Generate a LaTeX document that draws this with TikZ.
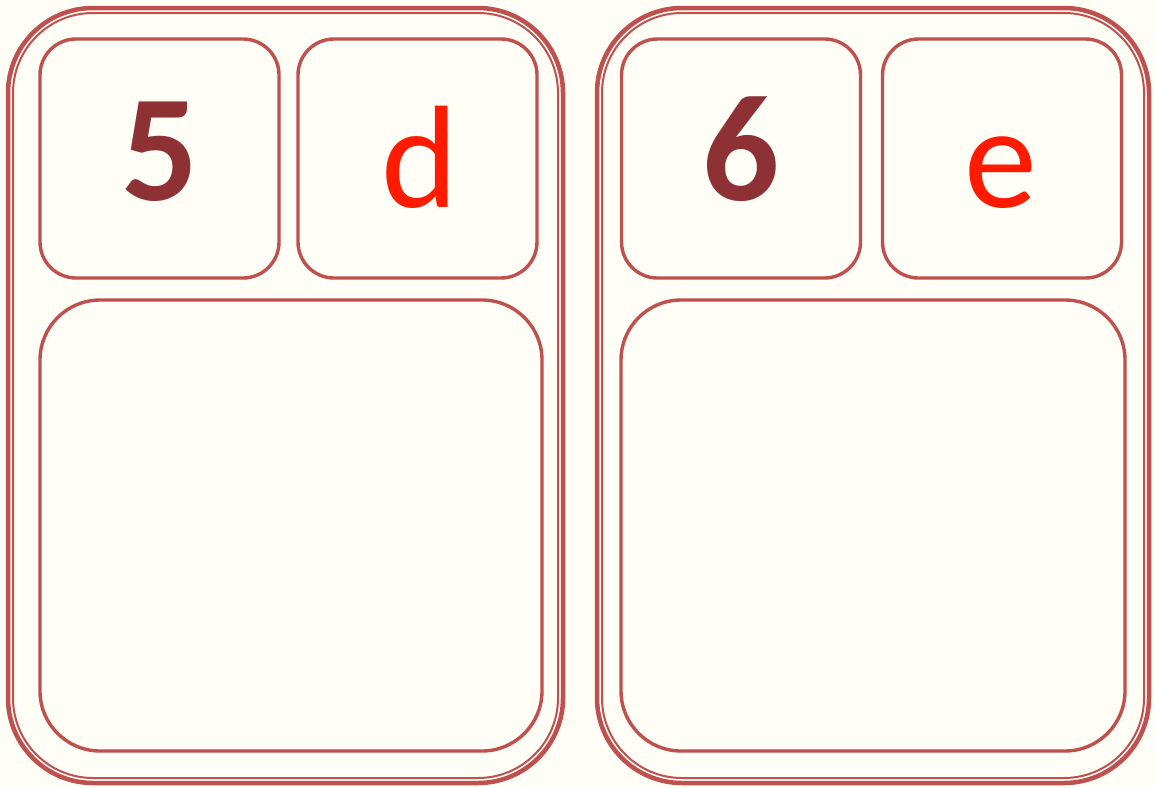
\documentclass[tikz,border=0pt]{standalone}
\usepackage{fontspec}
\setmainfont{Carlito}
\definecolor{bg}{HTML}{FEFEF7}
\definecolor{edge}{HTML}{C0504D}
\definecolor{numc}{HTML}{8E3134}
\definecolor{letc}{HTML}{FF1A00}
\tikzset{
  cardout/.style={draw=edge, line width=4.5pt, rounded corners=85pt, inner sep=0pt, fill=bg},
  cardin/.style={draw=edge, line width=2pt, rounded corners=80pt, inner sep=0pt},
  smallbox/.style={draw=edge, line width=3.4pt, rounded corners=36pt, inner sep=0pt, minimum width=239pt, minimum height=239pt},
  bigbox/.style={draw=edge, line width=3.4pt, rounded corners=60pt, inner sep=0pt},
  numtxt/.style={anchor=base, inner sep=0pt, text=numc, font=\fontsize{152}{152}\selectfont\bfseries},
  lettxt/.style={anchor=base, inner sep=0pt, text=letc, font=\fontsize{146}{146}\selectfont}
}
\begin{document}
\begin{tikzpicture}[x=1pt,y=-1pt]
\fill[bg] (0,0) rectangle (1156,787);
\useasboundingbox (0,0) rectangle (1156,787);
% left card
\node[cardout, minimum width=555pt, minimum height=775pt] (Lout) at (285.5,395.5) {};
\node[cardin, minimum width=545pt, minimum height=765pt] (Lin) at (285.5,395.5) {};
\node[smallbox] (L1) at (159.5,158.5) {};
\node[smallbox] (L2) at (417.5,158.5) {};
\node[bigbox, minimum width=502pt, minimum height=451pt] (L3) at (291,525.5) {};
% right card
\node[cardout, minimum width=552pt, minimum height=775pt] (Rout) at (873,395.5) {};
\node[cardin, minimum width=542pt, minimum height=765pt] (Rin) at (873,395.5) {};
\node[smallbox] (R1) at (741,158.5) {};
\node[smallbox] (R2) at (1002,158.5) {};
\node[bigbox, minimum width=504pt, minimum height=451pt] (R3) at (873,525.5) {};
% texts
\node[numtxt] (t5) at (160,200) {5};
\node[lettxt] (td) at (420,207) {d};
\node[numtxt] (t6) at (741,200) {6};
\node[lettxt] (te) at (1001,207) {e};
\end{tikzpicture}
\end{document}
